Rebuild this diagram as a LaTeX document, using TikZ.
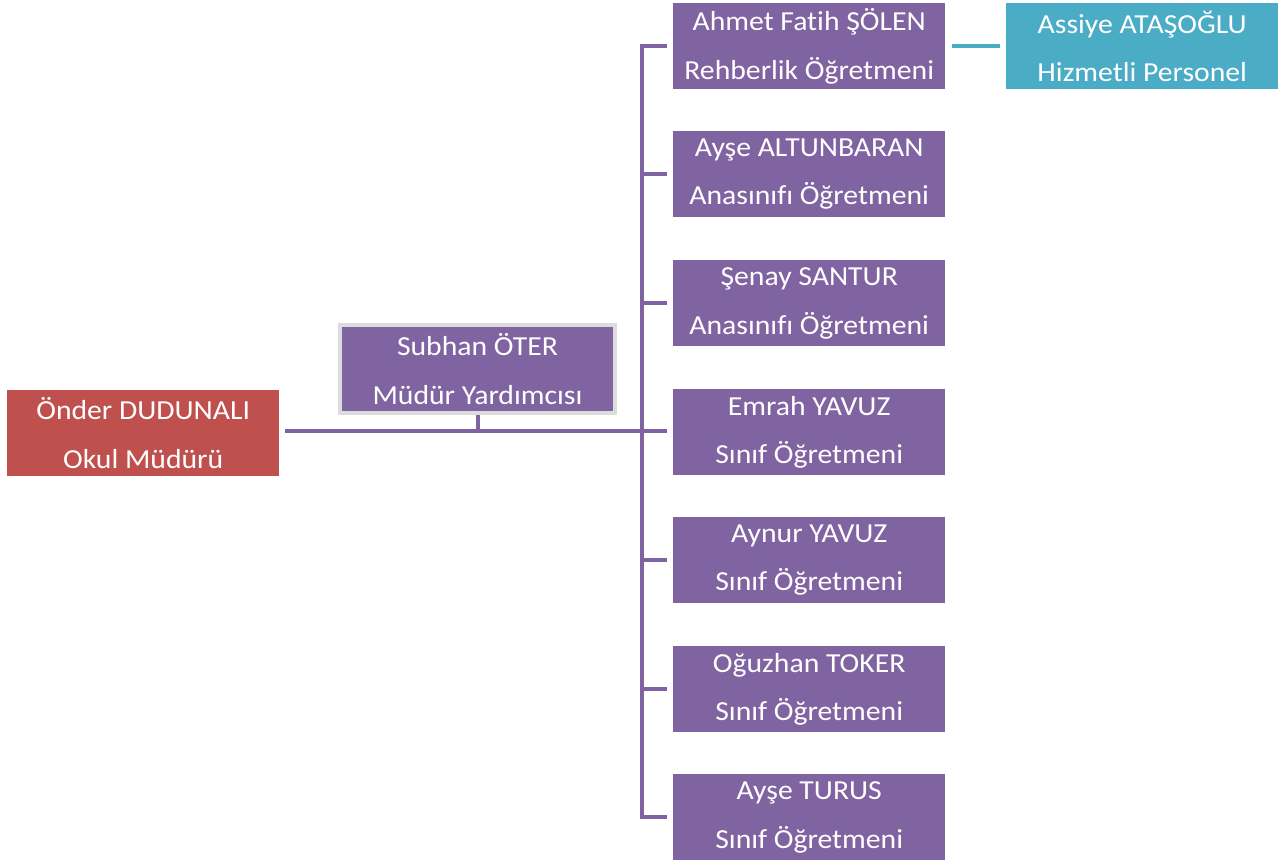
\documentclass[tikz,border=0pt]{standalone}
\usepackage{fontspec}
\setmainfont{Carlito}[FakeStretch=1.08,RawFeature=-liga]
\definecolor{purp}{HTML}{8064A2}
\definecolor{redb}{HTML}{C0504D}
\definecolor{cyanb}{HTML}{4BACC6}
\definecolor{lgray}{HTML}{DCDCDC}
\begin{document}
\begin{tikzpicture}[x=1pt,y=-1pt,
  box/.style={anchor=north west,minimum width=272pt,minimum height=86pt,inner sep=0pt,
    text=white,align=center,font=\fontsize{27.5}{48.5}\selectfont},
  pbox/.style={box,fill=purp},
  conn/.style={draw=purp,line width=4pt},
  cconn/.style={draw=cyanb,line width=4pt}]
\useasboundingbox (0,0) rectangle (1281,863);
\node[box,fill=redb] (ond) at (7,390) {Önder DUDUNALI\\Okul Müdürü};
\node[pbox,draw=lgray,line width=4pt,minimum width=275pt,minimum height=88pt] (sub) at (338,323) {Subhan ÖTER\\Müdür Yardımcısı};
\node[pbox] (b1) at (673,3) {Ahmet Fatih ŞÖLEN\\Rehberlik Öğretmeni};
\node[pbox] (b2) at (673,131) {Ayşe ALTUNBARAN\\Anasınıfı Öğretmeni};
\node[pbox] (b3) at (673,260) {Şenay SANTUR\\Anasınıfı Öğretmeni};
\node[pbox] (b4) at (673,389) {Emrah YAVUZ\\Sınıf Öğretmeni};
\node[pbox] (b5) at (673,517) {Aynur YAVUZ\\Sınıf Öğretmeni};
\node[pbox] (b6) at (673,646) {Oğuzhan TOKER\\Sınıf Öğretmeni};
\node[pbox] (b7) at (673,774) {Ayşe TURUS\\Sınıf Öğretmeni};
\node[box,fill=cyanb] (as) at (1006,3) {Assiye ATAŞOĞLU\\Hizmetli Personel};
\coordinate (j) at (642,431);
\coordinate (sj) at (sub.south |- j);
\draw[conn] ([xshift=6pt]ond.east |- j) -- ([xshift=-6pt]b4.west |- j);
\draw[conn] (sub.south) -- (sj);
\draw[conn,line cap=rect] (j |- b1.west) -- (j |- b7.west);
\foreach \b in {b1,b2,b3,b5,b6,b7}{
  \draw[conn] (j |- \b.west) -- ([xshift=-6pt]\b.west);
}
\draw[cconn] ([xshift=7pt]b1.east) -- ([xshift=-6pt]as.west);
\end{tikzpicture}
\end{document}
